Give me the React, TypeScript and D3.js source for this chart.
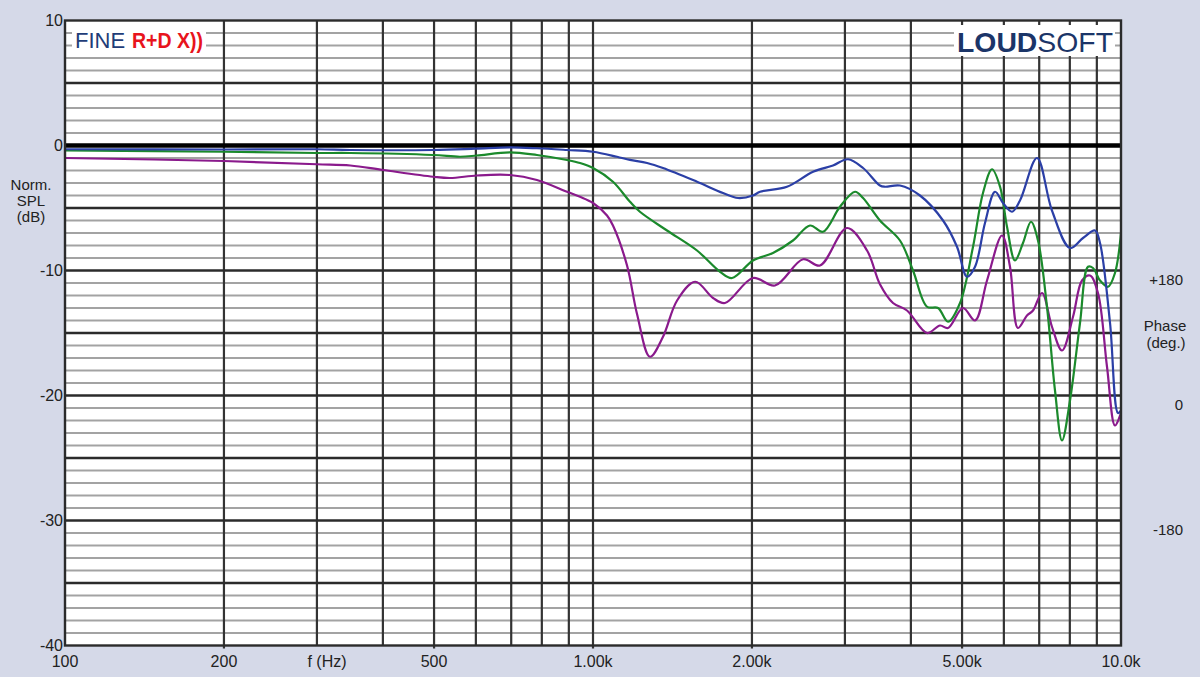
import React, { useEffect, useRef } from "react";
import * as d3 from "d3";

// ---------- data (frequency Hz, level dB) ----------
const blueSeries: [number, number][] = [
  [100, -0.3], [200, -0.32], [300, -0.3], [347, -0.36], [498, -0.36], [600, -0.25],
  [696, -0.15], [783, -0.22], [893, -0.36], [1000, -0.5], [1110, -0.9], [1175, -1.15],
  [1266, -1.4], [1357, -1.8], [1574, -2.9], [1763, -3.8], [1882, -4.2], [2009, -4.0],
  [2072, -3.7], [2330, -3.3], [2611, -2.1], [2848, -1.6], [3040, -1.1], [3247, -1.8],
  [3495, -3.2], [3573, -3.3], [3814, -3.2], [4162, -4.0], [4602, -6.0], [4891, -8.1],
  [5109, -10.5], [5291, -9.7], [5526, -6.2], [5774, -3.7], [5978, -4.6], [6217, -5.3],
  [6437, -4.4], [6933, -1.0], [7400, -5.2], [8006, -8.2], [8474, -7.4], [8929, -6.8],
  [9125, -7.8], [9533, -14.2], [9869, -21.4], [10000, -21.2],
];

const greenSeries: [number, number][] = [
  [100, -0.4], [200, -0.5], [300, -0.6], [347, -0.6], [498, -0.76], [560, -0.9],
  [603, -0.8], [696, -0.55], [783, -0.76], [893, -1.16], [945, -1.4], [1000, -1.8],
  [1091, -2.9], [1175, -4.5], [1227, -5.3], [1381, -6.8], [1574, -8.4], [1740, -10.1],
  [1834, -10.6], [2009, -9.2], [2192, -8.6], [2392, -7.6], [2576, -6.4], [2726, -6.9],
  [2936, -4.9], [3135, -3.7], [3247, -4.2], [3495, -6.0], [3814, -7.6], [4037, -10.0],
  [4292, -12.9], [4503, -13.0], [4703, -14.1], [4956, -12.6], [5245, -8.1], [5478, -3.8],
  [5698, -1.9], [5901, -3.3], [6083, -6.5], [6298, -9.2], [6522, -7.8], [6753, -6.1],
  [6963, -7.6], [7241, -12.9], [7499, -19.6], [7732, -23.6], [8006, -20.4], [8363, -14.2],
  [8660, -9.7], [8851, -9.8], [9125, -10.8], [9450, -11.3], [9741, -10.2], [10000, -7.0],
];

const purpleSeries: [number, number][] = [
  [100, -1.0], [200, -1.24], [300, -1.5], [347, -1.6], [400, -1.96], [498, -2.5],
  [536, -2.6], [603, -2.4], [696, -2.36], [783, -2.76], [893, -3.7], [945, -4.1],
  [1000, -4.6], [1063, -5.6], [1091, -6.4], [1160, -9.6], [1212, -13.5], [1282, -16.9],
  [1357, -15.3], [1443, -12.4], [1561, -10.9], [1688, -12.2], [1778, -12.6], [2009, -10.6],
  [2211, -11.2], [2499, -9.1], [2691, -9.6], [3027, -6.6], [3304, -8.4], [3495, -11.1],
  [3700, -12.6], [3933, -13.2], [4292, -15.0], [4542, -14.4], [4703, -14.6], [5021, -13.0],
  [5291, -14.0], [5575, -10.8], [5952, -7.2], [6163, -9.7], [6381, -14.6], [6637, -13.6],
  [6813, -13.2], [7086, -11.8], [7400, -14.5], [7732, -16.4], [8112, -13.7], [8437, -10.8],
  [8736, -10.4], [9045, -11.8], [9408, -17.7], [9741, -22.4], [10000, -21.4],
];

const yTickValues = [10, 0, -10, -20, -30, -40];
const xTickValues = [100, 200, 500, 1000, 2000, 5000, 10000];
const xTickLabels = ["100", "200", "500", "1.00k", "2.00k", "5.00k", "10.0k"];
const phaseTickValues = [180, 0, -180];
const phaseTickLabels = ["+180", "0", "-180"];
const verticalGridFreqs = [200, 300, 400, 500, 600, 700, 800, 900, 1000, 2000, 3000, 4000, 5000, 6000, 7000, 8000, 9000];

const W = 1200;
const H = 677;
const FONT = "'Liberation Sans', Arial, Helvetica, sans-serif";

export default function App() {
  const ref = useRef<SVGSVGElement | null>(null);

  useEffect(() => {
    document.body.style.margin = "0";
    const svg = d3.select(ref.current!);
    svg.selectAll("*").remove();

    const left = 65, right = 1121, top = 20.5, bottom = 645.5;
    const x = d3.scaleLog().domain([100, 10000]).range([left, right]);
    const y = d3.scaleLinear().domain([-40, 10]).range([bottom, top]);
    const yPhase = d3.scaleLinear().domain([-180, 180]).range([530, 280]);

    svg.append("rect").attr("width", W).attr("height", H).attr("fill", "#d5d9e8");
    svg.append("rect").attr("x", left).attr("y", top).attr("width", right - left)
      .attr("height", bottom - top).attr("fill", "#ffffff");

    const grid = svg.append("g");
    // minor horizontal lines
    d3.range(-39, 10, 1).filter((v) => v % 5 !== 0).forEach((v) => {
      grid.append("line").attr("x1", left).attr("x2", right).attr("y1", y(v)).attr("y2", y(v))
        .attr("stroke", "#a3a3a3").attr("stroke-width", 2);
    });
    // vertical lines
    verticalGridFreqs.forEach((f) => {
      const ext = xTickValues.includes(f) ? 3 : 0;
      grid.append("line").attr("x1", x(f)).attr("x2", x(f)).attr("y1", top).attr("y2", bottom + ext)
        .attr("stroke", "#333333").attr("stroke-width", 2.2);
    });
    // major horizontal lines
    d3.range(-35, 10, 5).forEach((v) => {
      grid.append("line").attr("x1", left).attr("x2", right).attr("y1", y(v)).attr("y2", y(v))
        .attr("stroke", v === 0 ? "#000000" : "#2b2b2b").attr("stroke-width", v === 0 ? 4.5 : 2.6);
    });

    // curves
    const clipId = "plotclip";
    svg.append("clipPath").attr("id", clipId).append("rect")
      .attr("x", left).attr("y", top).attr("width", right - left).attr("height", bottom - top);
    const line = d3.line<[number, number]>()
      .x((d) => x(d[0])).y((d) => y(d[1]))
      .curve(d3.curveCatmullRom.alpha(0.5));
    const curves = svg.append("g").attr("clip-path", `url(#${clipId})`);
    const series: [[number, number][], string][] = [
      [purpleSeries, "#8a1a8c"],
      [greenSeries, "#1b8a2c"],
      [blueSeries, "#2b3fa6"],
    ];
    series.forEach(([data, color]) => {
      curves.append("path").datum(data).attr("d", line).attr("fill", "none")
        .attr("stroke", color).attr("stroke-width", 2.2).attr("stroke-linejoin", "round");
    });

    // border
    svg.append("rect").attr("x", left).attr("y", top).attr("width", right - left)
      .attr("height", bottom - top).attr("fill", "none").attr("stroke", "#2b2b2b").attr("stroke-width", 2.4);

    // logos
    svg.append("rect").attr("x", 72).attr("y", 27).attr("width", 134).attr("height", 26).attr("fill", "#ffffff");
    const fine = svg.append("text").attr("x", 75).attr("y", 48).attr("font-family", FONT).attr("font-size", 22);
    fine.append("tspan").attr("fill", "#1f3d78").text("FINE ");
    svg.append("text").attr("x", 132).attr("y", 48).attr("font-family", FONT).attr("font-size", 22)
      .attr("font-weight", "bold").attr("fill", "#e8141c")
      .attr("textLength", 71).attr("lengthAdjust", "spacingAndGlyphs").text("R+D X))");

    svg.append("rect").attr("x", 954).attr("y", 25).attr("width", 161).attr("height", 31).attr("fill", "#ffffff");
    const ls = svg.append("text").attr("x", 957).attr("y", 52).attr("font-family", FONT)
      .attr("font-size", 28).attr("fill", "#1b3568")
      .attr("textLength", 156).attr("lengthAdjust", "spacingAndGlyphs");
    ls.append("tspan").attr("font-weight", "bold").text("LOUD");
    ls.append("tspan").text("SOFT");

    // axis labels
    const txt = svg.append("g").attr("font-family", FONT).attr("fill", "#222222");
    yTickValues.forEach((v) => {
      txt.append("text").attr("x", 63).attr("y", y(v)).attr("dy", "0.35em")
        .attr("text-anchor", "end").attr("font-size", 16).text(String(v));
    });
    xTickValues.forEach((f, i) => {
      txt.append("text").attr("x", x(f)).attr("y", 661).attr("dy", "0.35em")
        .attr("text-anchor", "middle").attr("font-size", 16).text(xTickLabels[i]);
    });
    txt.append("text").attr("x", 327).attr("y", 661).attr("dy", "0.35em")
      .attr("text-anchor", "middle").attr("font-size", 16).text("f (Hz)");
    ["Norm.", "SPL", "(dB)"].forEach((s, i) => {
      txt.append("text").attr("x", 31).attr("y", 185 + i * 16).attr("dy", "0.35em")
        .attr("text-anchor", "middle").attr("font-size", 15).text(s);
    });
    phaseTickValues.forEach((v, i) => {
      txt.append("text").attr("x", 1183).attr("y", yPhase(v)).attr("dy", "0.35em")
        .attr("text-anchor", "end").attr("font-size", 15).text(phaseTickLabels[i]);
    });
    txt.append("text").attr("x", 1165).attr("y", 326).attr("dy", "0.35em")
      .attr("text-anchor", "middle").attr("font-size", 15).text("Phase");
    txt.append("text").attr("x", 1166).attr("y", 343).attr("dy", "0.35em")
      .attr("text-anchor", "middle").attr("font-size", 15).text("(deg.)");
  }, []);

  return (
    <div style={{ position: "absolute", left: 0, top: 0, width: W, height: H }}>
      <svg ref={ref} width={W} height={H} style={{ display: "block" }} />
    </div>
  );
}
